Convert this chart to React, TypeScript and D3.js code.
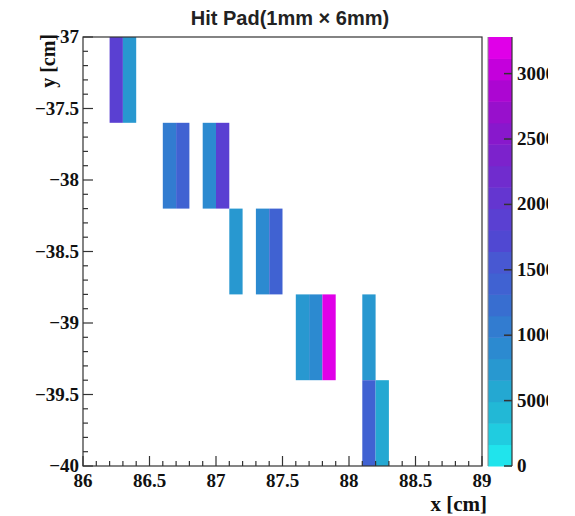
import React from "react";
import * as d3 from "d3";

// Pad geometry (cm): each hit pad is 1 mm wide in x and 6 mm tall in y
const padWidth = 0.1;
const padHeight = 0.6;

// Lower-left x edge and top y edge of every fired pad, with its charge
const padX = [86.2, 86.3, 86.6, 86.7, 86.9, 87.0, 87.1, 87.3, 87.4, 87.6, 87.7, 87.8, 88.1, 88.1, 88.2];
const padTop = [-37.0, -37.0, -37.6, -37.6, -37.6, -37.6, -38.2, -38.2, -38.2, -38.8, -38.8, -38.8, -38.8, -39.4, -39.4];
const padCharge = [18500, 7000, 10500, 14000, 8500, 18500, 7000, 8500, 14000, 7000, 9000, 32000, 7000, 13500, 5800];

const xTicks = [86, 86.5, 87, 87.5, 88, 88.5, 89];
const yTicks = [-37, -37.5, -38, -38.5, -39, -39.5, -40];
const zTicks = [0, 5000, 10000, 15000, 20000, 25000, 30000];

// Discrete palette bands, lowest to highest
const paletteBands = [
  "#20e4ec", "#20cce0", "#22b8d6", "#24a8d2", "#2898d0",
  "#2c8ad0", "#327cd0", "#386ed0", "#4062d2", "#4858d2",
  "#5048d2", "#5a40d2", "#6436d0", "#702cce", "#7c22cc",
  "#8818cc", "#9810cc", "#ac06d2", "#c400dc", "#e000e8",
];

const zMax = 32800;

const W = 575;
const H = 516;
const left = 83;
const right = 482;
const top = 37;
const bottom = 466;
const barLeft = 488;
const barRight = 512;

const fmt = (v: number) => (v < 0 ? "\u2212" + String(Math.abs(v)) : String(v));

export default function App() {
  const x = d3.scaleLinear().domain([86, 89]).range([left, right]);
  const y = d3.scaleLinear().domain([-40, -37]).range([bottom, top]);
  const z = d3.scaleLinear().domain([0, zMax]).range([bottom, top]);
  const band = d3
    .scaleQuantize<string>()
    .domain([0, zMax])
    .range(paletteBands);

  const xMinor = d3.range(86, 89.0001, 0.1);
  const yMinor = d3.range(-40, -36.9999, 0.1);
  const zMinorStep = zMax / paletteBands.length;

  const serif = "'Liberation Serif', 'DejaVu Serif', serif";
  const sans = "'Liberation Sans', Arial, sans-serif";
  const axisColor = "#333";

  return (
    <svg width={W} height={H} style={{ display: "block", position: "absolute", left: 0, top: 0 }}>
      <defs>
        <clipPath id="zlabels">
          <rect x={barRight} y={0} width={548 - barRight} height={H} />
        </clipPath>
      </defs>
      <rect x={0} y={0} width={W} height={H} fill="#fff" />

      {/* pads */}
      {padX.map((px, i) => (
        <rect
          key={i}
          x={x(px)}
          y={y(padTop[i])}
          width={x(px + padWidth) - x(px)}
          height={y(padTop[i] - padHeight) - y(padTop[i])}
          fill={band(padCharge[i])}
        />
      ))}

      {/* frame */}
      <rect x={left} y={top} width={right - left} height={bottom - top} fill="none" stroke={axisColor} strokeWidth={1.2} />

      {/* x ticks */}
      {xMinor.map((v, i) => {
        const major = i % 5 === 0;
        return (
          <line key={"xm" + i} x1={x(v)} x2={x(v)} y1={bottom} y2={bottom - (major ? 10 : 5)} stroke={axisColor} strokeWidth={1.2} />
        );
      })}
      {yMinor.map((v, i) => {
        const major = i % 5 === 0;
        return (
          <line key={"ym" + i} x1={left} x2={left + (major ? 10 : 5)} y1={y(v)} y2={y(v)} stroke={axisColor} strokeWidth={1.2} />
        );
      })}

      {xTicks.map((v) => (
        <text key={"xt" + v} x={x(v)} y={487} textAnchor="middle" fontFamily={serif} fontWeight="bold" fontSize={19} fill="#111">
          {fmt(v)}
        </text>
      ))}
      {yTicks.map((v) => (
        <text key={"yt" + v} x={79} y={y(v) + 6} textAnchor="end" fontFamily={serif} fontWeight="bold" fontSize={19} fill="#111">
          {fmt(v)}
        </text>
      ))}

      {/* axis titles */}
      <text x={right + 5} y={511} textAnchor="end" fontFamily={serif} fontWeight="bold" fontSize={21} fill="#111">
        x [cm]
      </text>
      <text
        transform={`translate(55, ${top - 3}) rotate(-90)`}
        textAnchor="end"
        fontFamily={serif}
        fontWeight="bold"
        fontSize={20}
        fill="#111"
      >
        y [cm]
      </text>

      {/* title */}
      <text x={290} y={25} textAnchor="middle" fontFamily={sans} fontWeight="bold" fontSize={20} fill="#222">
        Hit Pad(1mm {"\u00d7"} 6mm)
      </text>

      {/* colour bar */}
      {paletteBands.map((c, i) => (
        <rect
          key={"pb" + i}
          x={barLeft}
          y={z((i + 1) * zMinorStep)}
          width={barRight - barLeft}
          height={z(i * zMinorStep) - z((i + 1) * zMinorStep) + 0.5}
          fill={c}
        />
      ))}
      <line x1={barLeft} x2={barLeft} y1={top} y2={bottom} stroke="#888" strokeWidth={1} />
      <line x1={barRight} x2={barRight} y1={top} y2={bottom} stroke={axisColor} strokeWidth={1.2} />
      {zTicks.map((v) => (
        <line key={"zt" + v} x1={barRight - 8} x2={barRight} y1={z(v)} y2={z(v)} stroke={axisColor} strokeWidth={1.5} />
      ))}
      <g clipPath="url(#zlabels)">
        {zTicks.map((v) => (
          <text key={"zl" + v} x={517} y={z(v) + 6} fontFamily={serif} fontWeight="bold" fontSize={19} fill="#111">
            {String(v)}
          </text>
        ))}
      </g>
    </svg>
  );
}
